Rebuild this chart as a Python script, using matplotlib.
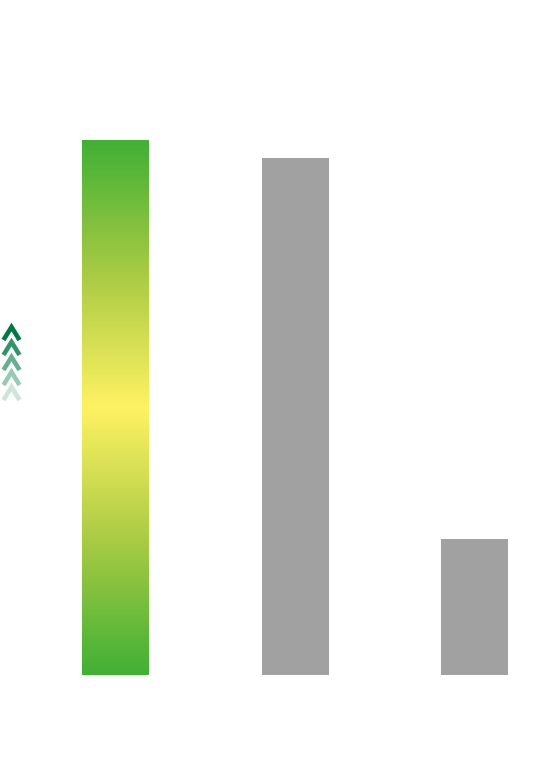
import numpy as np
import matplotlib.pyplot as plt
from matplotlib.colors import LinearSegmentedColormap

# bar values (relative, first bar = 100)
categories = ["A", "B", "C"]
values = [100, 96.6, 25.4]
bar_colors = ["none", "#a0a1a0", "#a0a1a0"]

green = "#41b035"
mid = "#a9cb44"
yellow = "#fff263"
chevron_color = "#007a45"
chevron_alpha = [1.0, 0.8, 0.6, 0.4, 0.2]

fig = plt.figure(figsize=(5.44, 7.63), dpi=100)
ax = fig.add_axes([0, 0, 1, 1])
ax.axis("off")

x = np.arange(len(categories))
bars = ax.bar(x, values, width=0.373, color=bar_colors, edgecolor="none")

# gradient fill for the first bar: green - yellow - green
cmap = LinearSegmentedColormap.from_list(
    "gy", [(0, green), (0.25, mid), (0.5, yellow), (0.75, mid), (1, green)])
b = bars[0]
grad = np.linspace(0, 1, 256).reshape(-1, 1)
im = ax.imshow(grad, cmap=cmap, aspect="auto",
               extent=[b.get_x(), b.get_x() + b.get_width(), 0, b.get_height()],
               origin="lower", zorder=2)
im.set_clip_path(b)
ax.set_xlim(-0.6435, 2.387)
ax.set_ylim(-16.45, 126.17)

# chevrons on the left (figure pixel coords)
tips = [327, 342, 357, 372, 387]
for tip, a in zip(tips, chevron_alpha):
    xs = [3.5, 11.5, 19.5]
    ys = [tip + 13, tip, tip + 13]
    fig.add_artist(plt.Line2D([v / 544 for v in xs], [1 - v / 763 for v in ys],
                              color=chevron_color, alpha=a, lw=3.3,
                              solid_joinstyle="miter", solid_capstyle="butt"))

fig.savefig("out.png", dpi=100, facecolor="white")
